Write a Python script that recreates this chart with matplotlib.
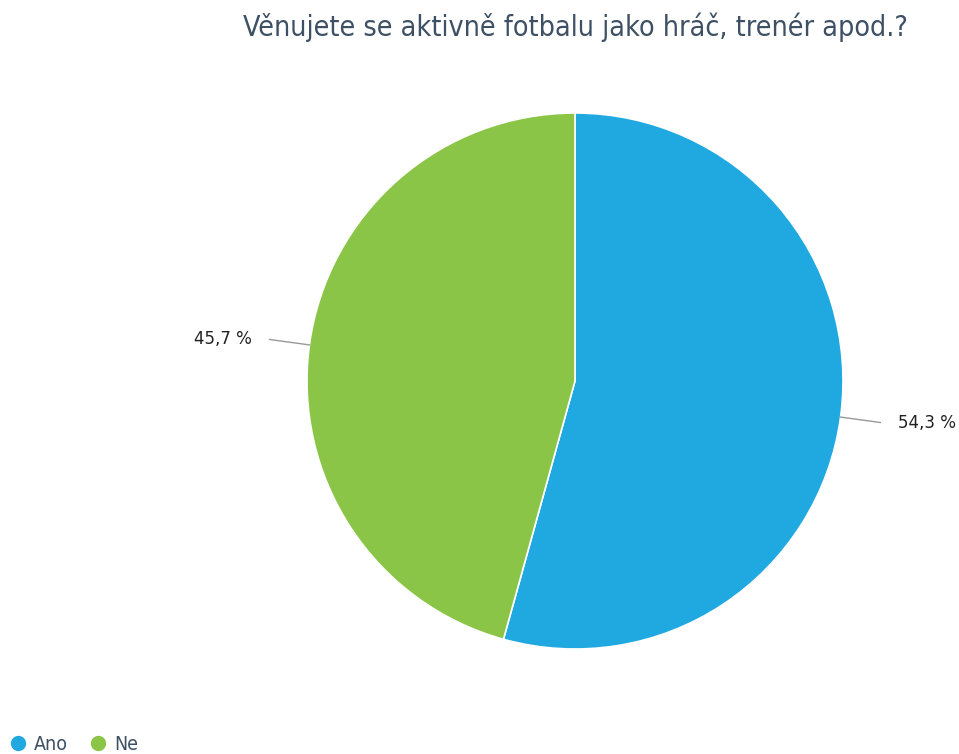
import numpy as np
import matplotlib.pyplot as plt
from matplotlib import font_manager

title = "Věnujete se aktivně fotbalu jako hráč, trenér apod.?"
labels = ["Ano", "Ne"]
values = [54.3, 45.7]
colors = ["#20a9e1", "#8bc547"]

# the reference uses a narrow sans, DejaVu Sans Condensed if it is there
cond = [f.fname for f in font_manager.fontManager.ttflist
        if "DejaVuSansCondensed.ttf" in f.fname]
if cond:
    font = lambda size: font_manager.FontProperties(fname=cond[0], size=size)
else:
    font = lambda size: font_manager.FontProperties(family="DejaVu Sans",
                                                    stretch="condensed", size=size)

W, H = 959, 754
fig = plt.figure(figsize=(W / 100, H / 100), dpi=100)

# pie placement in pixels
cx, cy, r = 575, 381, 268
ax = fig.add_axes([(cx - r) / W, (H - cy - r) / H, 2 * r / W, 2 * r / H])
wedges, _ = ax.pie(values, colors=colors, startangle=90, counterclock=False,
                   radius=1.0, wedgeprops=dict(edgecolor="white", linewidth=1.2))
ax.set_xlim(-1, 1)
ax.set_ylim(-1, 1)
ax.set_aspect("equal")
ax.axis("off")

# outside labels with leader lines
for w, v in zip(wedges, values):
    ang = np.deg2rad((w.theta1 + w.theta2) / 2)
    x, y = np.cos(ang), np.sin(ang)
    ax.plot([x, 1.15 * x], [y, 1.15 * y], color="#999999", lw=1, clip_on=False)
    ha = "left" if x > 0 else "right"
    ax.text(1.215 * x, 1.15 * y, f"{v:.1f} %".replace(".", ","), ha=ha, va="center",
            fontproperties=font(13.3), color="#222222", clip_on=False)

fig.text(cx / W, 1 - 27 / H, title, ha="center", va="center",
         fontproperties=font(20.5), color="#3d5064")

# legend at the bottom left
lx = [18, 98]
for x0, lab, c in zip(lx, labels, colors):
    fig.lines.append(plt.Line2D([x0 / W], [1 - 743 / H], marker="o", markersize=10,
                                color=c, transform=fig.transFigure))
    fig.text((x0 + 16) / W, 1 - 745 / H, lab, ha="left", va="center",
             fontproperties=font(14), color="#3d5064")

fig.savefig("out.png", dpi=100)
